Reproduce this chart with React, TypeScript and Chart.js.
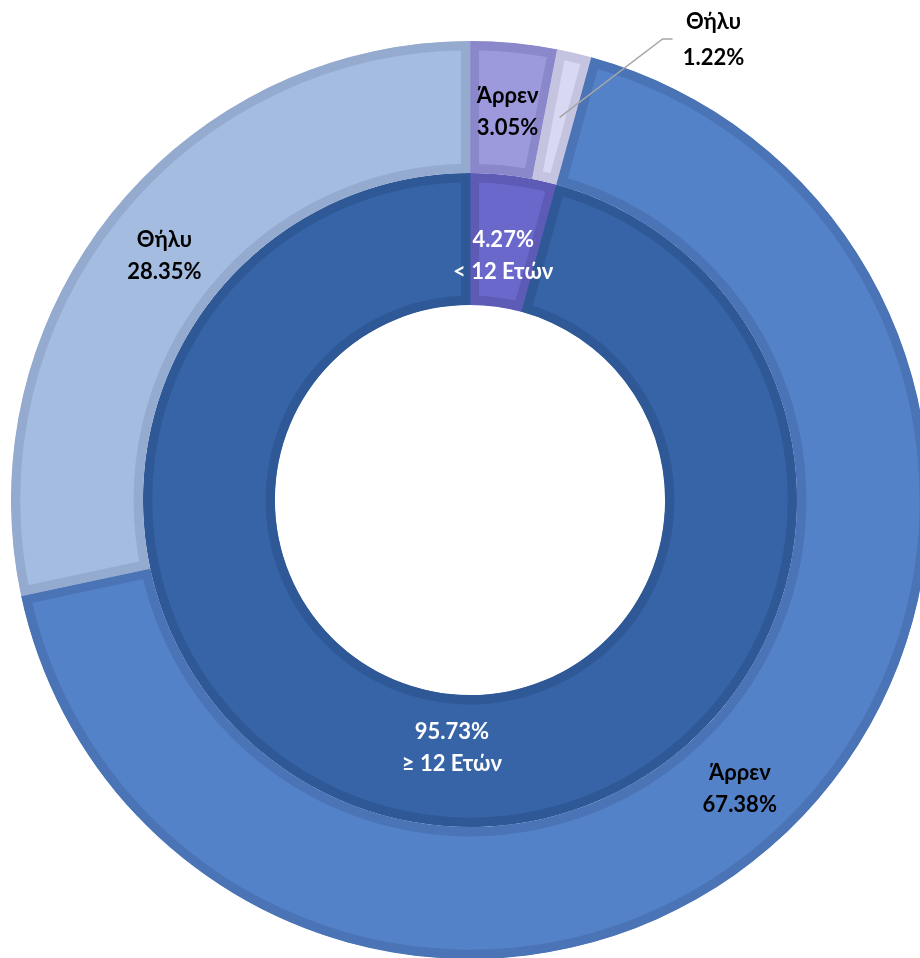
import React, { useEffect, useRef } from "react";
import { Chart, registerables } from "chart.js";
Chart.register(...registerables);

const outerLabels = ["Άρρεν", "Θήλυ", "Άρρεν", "Θήλυ"];
const outerValues = [3.05, 1.22, 67.38, 28.35];
const innerLabels = ["< 12 Ετών", "≥ 12 Ετών"];
const innerValues = [4.27, 95.73];

const outerColors = ["#9C99DC", "#D8D8F2", "#5482C8", "#A5BCE1"];
const outerBorders = ["#8A88CA", "#C4C3E0", "#4A74B6", "#94ABCF"];
const innerColors = ["#6B68CB", "#3664A7"];
const innerBorders = ["#5D5BB6", "#2F5897"];

const FONT = "bold 22px Lato, 'Open Sans', sans-serif";
const LINE_H = 32;
const innerNudgeX = [0, 15];

const labelPlugin = {
  id: "ringLabels",
  afterDatasetsDraw(chart: any) {
    const ctx = chart.ctx;
    ctx.save();
    ctx.font = FONT;
    ctx.textAlign = "center";
    ctx.textBaseline = "middle";
    const outerMeta = chart.getDatasetMeta(0);
    outerMeta.data.forEach((arc: any, i: number) => {
      const { x, y, startAngle, endAngle, innerRadius, outerRadius } = arc.getProps(
        ["x", "y", "startAngle", "endAngle", "innerRadius", "outerRadius"],
        true
      );
      const mid = (startAngle + endAngle) / 2;
      const r = (innerRadius + outerRadius) / 2;
      const px = x + Math.cos(mid) * r;
      const py = y + Math.sin(mid) * r;
      const lines = [outerLabels[i], outerValues[i].toFixed(2) + "%"];
      ctx.fillStyle = "#000000";
      if (i === 1) {
        const ex = px + 103;
        const elbowY = y - 461;
        ctx.strokeStyle = "#A6A6A6";
        ctx.lineWidth = 1.5;
        ctx.beginPath();
        ctx.moveTo(px, py);
        ctx.lineTo(ex, elbowY);
        ctx.lineTo(ex + 10, elbowY);
        ctx.stroke();
        const lx = ex + 51;
        ctx.fillText(lines[0], lx, elbowY - 17);
        ctx.fillText(lines[1], lx, elbowY + 19);
      } else {
        ctx.fillText(lines[0], px, py - LINE_H / 2 + 3);
        ctx.fillText(lines[1], px, py + LINE_H / 2 + 3);
      }
    });
    const innerMeta = chart.getDatasetMeta(1);
    innerMeta.data.forEach((arc: any, i: number) => {
      const { x, y, startAngle, endAngle, innerRadius, outerRadius } = arc.getProps(
        ["x", "y", "startAngle", "endAngle", "innerRadius", "outerRadius"],
        true
      );
      const mid = (startAngle + endAngle) / 2;
      const r = innerRadius + 0.4 * (outerRadius - innerRadius);
      const px = x + Math.cos(mid) * r + innerNudgeX[i];
      const py = y + Math.sin(mid) * r;
      ctx.fillStyle = "#FFFFFF";
      ctx.fillText(innerValues[i].toFixed(2) + "%", px, py - LINE_H / 2 + 2);
      ctx.fillText(innerLabels[i], px, py + LINE_H / 2 + 2);
    });
    ctx.restore();
  },
};

export default function App() {
  const ref = useRef<HTMLCanvasElement | null>(null);
  useEffect(() => {
    if (!ref.current) return;
    const chart = new Chart(ref.current, {
      type: "doughnut",
      data: {
        labels: outerLabels,
        datasets: [
          {
            data: outerValues,
            backgroundColor: outerColors,
            borderColor: outerBorders,
            borderWidth: 9,
            borderAlign: "inner",
            borderJoinStyle: "miter",
          } as any,
          {
            data: innerValues,
            backgroundColor: innerColors,
            borderColor: innerBorders,
            borderWidth: 9,
            borderAlign: "inner",
            borderJoinStyle: "miter",
          } as any,
        ],
      },
      options: {
        responsive: false,
        animation: false,
        cutout: "42.5%",
        layout: { padding: { left: 11, right: 11, top: 41, bottom: 1 } },
        plugins: {
          legend: { display: false },
          tooltip: { enabled: false },
        },
        events: [],
      } as any,
      plugins: [labelPlugin],
    });
    return () => chart.destroy();
  }, []);
  return (
    <div
      style={{
        position: "fixed",
        left: 0,
        top: 0,
        width: 920,
        height: 958,
        overflow: "hidden",
        background: "#FFFFFF",
      }}
    >
      <canvas
        ref={ref}
        width={940}
        height={960}
        style={{ position: "absolute", left: 0, top: 0, width: 940, height: 960 }}
      />
    </div>
  );
}
